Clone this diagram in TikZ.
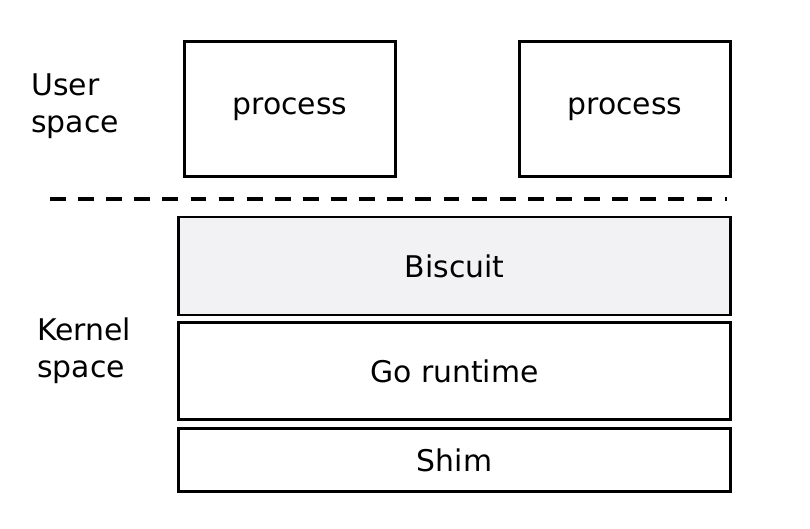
\documentclass[tikz,border=0pt]{standalone}
\usepackage{fontspec}
\setmainfont{DejaVu Sans}
\usetikzlibrary{positioning}
\definecolor{BiscuitGray}{HTML}{F2F2F4}

\begin{document}
\begin{tikzpicture}[
      x=0.02cm, y=-0.02cm,
      every node/.style={align=left, font=\fontsize{17}{21}\selectfont},
      proc/.style={draw, line width=1.6pt, minimum width=4.22cm, minimum height=2.7cm},
      layer/.style={draw, line width=1.6pt, minimum width=11.04cm},
      sep/.style={line width=2.2pt, dash pattern=on 9pt off 7pt}
    ]
      \useasboundingbox (0,0) rectangle (810,528);
      \node[proc] (proc1) at (290,109) {process};
      \node[proc] (proc2) at (625,109) {process};
      \coordinate (sepL) at (50,199);
      \coordinate (sepR) at (727,199);
      \draw[sep] (sepL) -- (sepR);
      \node[layer, fill=BiscuitGray, minimum height=1.96cm] (biscuit) at (454.5,266) {Biscuit};
      \node[layer, minimum height=1.94cm, below=0.1cm of biscuit] (goruntime) {Go runtime};
      \node[layer, minimum height=1.26cm, below=0.12cm of goruntime] (shim) {Shim};
      % Labels on the left
      \node[anchor=west] (user) at (25,106) {User\\space};
      \node[anchor=west] (kernel) at (31,351) {Kernel\\space};
    \end{tikzpicture}
\end{document}
